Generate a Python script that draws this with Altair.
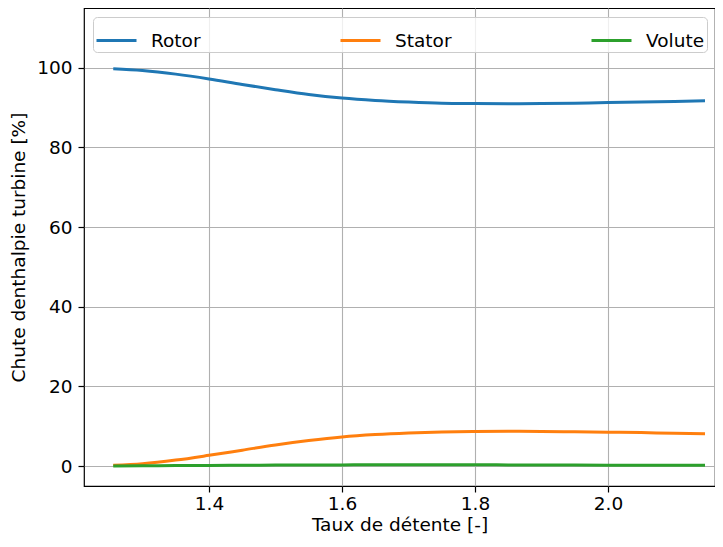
import altair as alt
import pandas as pd

taux = [1.256, 1.30, 1.35, 1.40, 1.45, 1.50, 1.55, 1.60, 1.65, 1.70, 1.75, 1.80,
        1.85, 1.90, 1.95, 2.00, 2.05, 2.10, 2.146]
rotor = [99.75, 99.3, 98.4, 97.2, 95.8, 94.5, 93.3, 92.4, 91.8, 91.4, 91.1, 91.0,
         90.95, 91.0, 91.1, 91.25, 91.4, 91.55, 91.7]
stator = [0.2, 0.6, 1.5, 2.7, 4.0, 5.3, 6.4, 7.3, 7.9, 8.3, 8.55, 8.7,
          8.75, 8.7, 8.6, 8.5, 8.4, 8.25, 8.1]
volute = [0.05, 0.08, 0.12, 0.15, 0.2, 0.25, 0.28, 0.3, 0.32, 0.33, 0.33, 0.32,
          0.3, 0.28, 0.26, 0.24, 0.22, 0.2, 0.18]

series_names = ["Rotor", "Stator", "Volute"]
series_colors = ["#1f77b4", "#ff7f0e", "#2ca02c"]
x_ticks = [1.4, 1.6, 1.8, 2.0]
y_ticks = [0, 20, 40, 60, 80, 100]

rows = []
for name, vals in zip(series_names, [rotor, stator, volute]):
    for i, (xv, yv) in enumerate(zip(taux, vals)):
        rows.append({"taux": xv, "chute": yv, "serie": name, "order": i})
df = pd.DataFrame(rows)

FONT = "DejaVu Sans"
FS = 18.5

chart = alt.Chart(df).mark_line(strokeWidth=3, interpolate="monotone").encode(
    x=alt.X("taux:Q",
            scale=alt.Scale(domain=[1.212, 2.161], nice=False, zero=False),
            axis=alt.Axis(values=x_ticks, format=".1f", title="Taux de détente [-]")),
    y=alt.Y("chute:Q",
            scale=alt.Scale(domain=[-5, 115], nice=False),
            axis=alt.Axis(values=y_ticks, format="d", title="Chute denthalpie turbine [%]")),
    color=alt.Color("serie:N",
                    scale=alt.Scale(domain=series_names, range=series_colors),
                    sort=series_names,
                    legend=alt.Legend(title=None, orient="none", legendX=9, legendY=9,
                                      direction="horizontal", columnPadding=133,
                                      symbolType="stroke", symbolSize=1600,
                                      symbolStrokeWidth=3, labelFontSize=FS,
                                      labelFont=FONT, labelColor="black",
                                      labelOffset=13, padding=2,
                                      fillColor="rgba(255,255,255,0.8)",
                                      strokeColor="#cccccc",
                                      cornerRadius=4)),
    order="order:Q",
).properties(
    width=631, height=478,
    autosize=alt.AutoSizeParams(type="none"),
    padding={"left": 76, "top": 0, "right": 0, "bottom": 48},
).configure_view(
    stroke="black", strokeWidth=1.2,
).configure_axis(
    grid=True, gridColor="#b0b0b0", gridWidth=1.1,
    domain=False, tickColor="black", tickSize=6, tickWidth=1.2,
    labelFont=FONT, labelFontSize=FS, labelColor="black",
    titleFont=FONT, titleFontSize=FS, titleFontWeight="normal", titleColor="black",
).configure_axisX(
    labelPadding=2, titlePadding=3,
).configure_axisY(
    labelPadding=6, titlePadding=8,
)

chart.save("out.html", embed_options={"renderer": "svg", "actions": False})
